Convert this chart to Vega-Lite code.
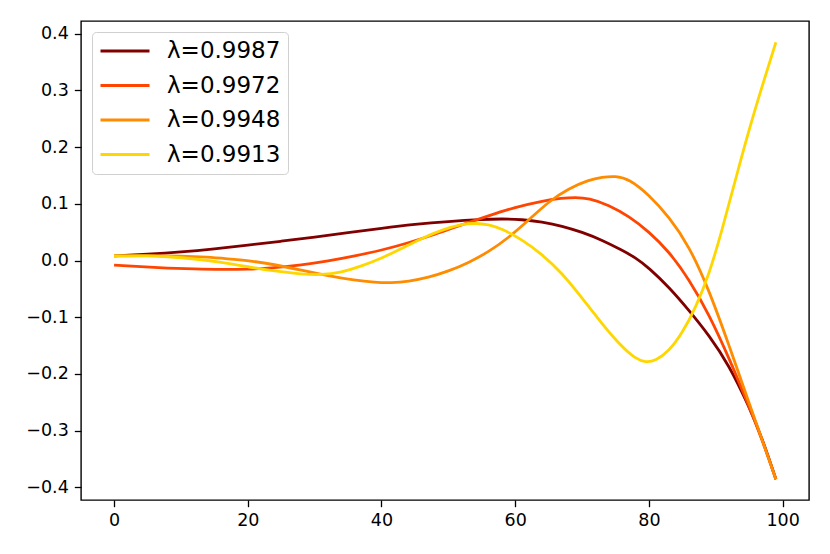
{
  "$schema": "https://vega.github.io/schema/vega-lite/v6.json",
  "width": 728,
  "height": 479,
  "autosize": "none",
  "padding": {"left": 81, "top": 21, "right": 21, "bottom": 54},
  "background": "white",
  "config": {
    "view": {"stroke": "black", "strokeWidth": 1.4},
    "font": "DejaVu Sans"
  },
  "datasets": {
    "curves": [
      {"x": 0, "y": 0.008, "s": "λ=0.9987"},
      {"x": 5, "y": 0.011, "s": "λ=0.9987"},
      {"x": 10, "y": 0.015, "s": "λ=0.9987"},
      {"x": 15, "y": 0.0205, "s": "λ=0.9987"},
      {"x": 20, "y": 0.027, "s": "λ=0.9987"},
      {"x": 25, "y": 0.034, "s": "λ=0.9987"},
      {"x": 30, "y": 0.041, "s": "λ=0.9987"},
      {"x": 35, "y": 0.049, "s": "λ=0.9987"},
      {"x": 40, "y": 0.057, "s": "λ=0.9987"},
      {"x": 45, "y": 0.064, "s": "λ=0.9987"},
      {"x": 50, "y": 0.069, "s": "λ=0.9987"},
      {"x": 55, "y": 0.0725, "s": "λ=0.9987"},
      {"x": 58, "y": 0.0735, "s": "λ=0.9987"},
      {"x": 61, "y": 0.0725, "s": "λ=0.9987"},
      {"x": 64, "y": 0.068, "s": "λ=0.9987"},
      {"x": 67, "y": 0.061, "s": "λ=0.9987"},
      {"x": 70, "y": 0.05, "s": "λ=0.9987"},
      {"x": 73, "y": 0.036, "s": "λ=0.9987"},
      {"x": 76, "y": 0.018, "s": "λ=0.9987"},
      {"x": 78, "y": 0.005, "s": "λ=0.9987"},
      {"x": 80, "y": -0.013, "s": "λ=0.9987"},
      {"x": 83, "y": -0.047, "s": "λ=0.9987"},
      {"x": 86, "y": -0.088, "s": "λ=0.9987"},
      {"x": 89, "y": -0.132, "s": "λ=0.9987"},
      {"x": 92, "y": -0.185, "s": "λ=0.9987"},
      {"x": 95, "y": -0.258, "s": "λ=0.9987"},
      {"x": 97, "y": -0.315, "s": "λ=0.9987"},
      {"x": 99, "y": -0.386, "s": "λ=0.9987"},

      {"x": 0, "y": -0.008, "s": "λ=0.9972"},
      {"x": 4, "y": -0.011, "s": "λ=0.9972"},
      {"x": 8, "y": -0.0135, "s": "λ=0.9972"},
      {"x": 12, "y": -0.015, "s": "λ=0.9972"},
      {"x": 16, "y": -0.016, "s": "λ=0.9972"},
      {"x": 20, "y": -0.0155, "s": "λ=0.9972"},
      {"x": 24, "y": -0.013, "s": "λ=0.9972"},
      {"x": 28, "y": -0.008, "s": "λ=0.9972"},
      {"x": 32, "y": -0.001, "s": "λ=0.9972"},
      {"x": 36, "y": 0.008, "s": "λ=0.9972"},
      {"x": 40, "y": 0.018, "s": "λ=0.9972"},
      {"x": 44, "y": 0.031, "s": "λ=0.9972"},
      {"x": 48, "y": 0.046, "s": "λ=0.9972"},
      {"x": 52, "y": 0.063, "s": "λ=0.9972"},
      {"x": 56, "y": 0.079, "s": "λ=0.9972"},
      {"x": 60, "y": 0.094, "s": "λ=0.9972"},
      {"x": 64, "y": 0.105, "s": "λ=0.9972"},
      {"x": 67, "y": 0.110, "s": "λ=0.9972"},
      {"x": 69, "y": 0.1115, "s": "λ=0.9972"},
      {"x": 71, "y": 0.110, "s": "λ=0.9972"},
      {"x": 74, "y": 0.098, "s": "λ=0.9972"},
      {"x": 77, "y": 0.078, "s": "λ=0.9972"},
      {"x": 80, "y": 0.051, "s": "λ=0.9972"},
      {"x": 83, "y": 0.016, "s": "λ=0.9972"},
      {"x": 86, "y": -0.033, "s": "λ=0.9972"},
      {"x": 89, "y": -0.095, "s": "λ=0.9972"},
      {"x": 92, "y": -0.172, "s": "λ=0.9972"},
      {"x": 95, "y": -0.258, "s": "λ=0.9972"},
      {"x": 97, "y": -0.318, "s": "λ=0.9972"},
      {"x": 99, "y": -0.386, "s": "λ=0.9972"},

      {"x": 0, "y": 0.008, "s": "λ=0.9948"},
      {"x": 5, "y": 0.0088, "s": "λ=0.9948"},
      {"x": 10, "y": 0.008, "s": "λ=0.9948"},
      {"x": 14, "y": 0.006, "s": "λ=0.9948"},
      {"x": 17, "y": 0.003, "s": "λ=0.9948"},
      {"x": 20, "y": 0.0, "s": "λ=0.9948"},
      {"x": 24, "y": -0.007, "s": "λ=0.9948"},
      {"x": 28, "y": -0.017, "s": "λ=0.9948"},
      {"x": 32, "y": -0.027, "s": "λ=0.9948"},
      {"x": 36, "y": -0.035, "s": "λ=0.9948"},
      {"x": 39, "y": -0.0385, "s": "λ=0.9948"},
      {"x": 41.5, "y": -0.0395, "s": "λ=0.9948"},
      {"x": 44, "y": -0.037, "s": "λ=0.9948"},
      {"x": 47, "y": -0.03, "s": "λ=0.9948"},
      {"x": 50, "y": -0.019, "s": "λ=0.9948"},
      {"x": 53, "y": -0.004, "s": "λ=0.9948"},
      {"x": 56, "y": 0.015, "s": "λ=0.9948"},
      {"x": 59, "y": 0.04, "s": "λ=0.9948"},
      {"x": 62, "y": 0.071, "s": "λ=0.9948"},
      {"x": 65, "y": 0.104, "s": "λ=0.9948"},
      {"x": 68, "y": 0.127, "s": "λ=0.9948"},
      {"x": 71, "y": 0.142, "s": "λ=0.9948"},
      {"x": 73, "y": 0.147, "s": "λ=0.9948"},
      {"x": 75, "y": 0.149, "s": "λ=0.9948"},
      {"x": 77, "y": 0.144, "s": "λ=0.9948"},
      {"x": 80, "y": 0.116, "s": "λ=0.9948"},
      {"x": 83, "y": 0.077, "s": "λ=0.9948"},
      {"x": 86, "y": 0.026, "s": "λ=0.9948"},
      {"x": 89, "y": -0.052, "s": "λ=0.9948"},
      {"x": 92, "y": -0.15, "s": "λ=0.9948"},
      {"x": 95, "y": -0.252, "s": "λ=0.9948"},
      {"x": 97, "y": -0.318, "s": "λ=0.9948"},
      {"x": 99, "y": -0.386, "s": "λ=0.9948"},

      {"x": 0, "y": 0.008, "s": "λ=0.9913"},
      {"x": 4, "y": 0.0085, "s": "λ=0.9913"},
      {"x": 8, "y": 0.007, "s": "λ=0.9913"},
      {"x": 12, "y": 0.003, "s": "λ=0.9913"},
      {"x": 16, "y": -0.003, "s": "λ=0.9913"},
      {"x": 20, "y": -0.011, "s": "λ=0.9913"},
      {"x": 24, "y": -0.019, "s": "λ=0.9913"},
      {"x": 28, "y": -0.024, "s": "λ=0.9913"},
      {"x": 31, "y": -0.0255, "s": "λ=0.9913"},
      {"x": 34, "y": -0.021, "s": "λ=0.9913"},
      {"x": 37, "y": -0.01, "s": "λ=0.9913"},
      {"x": 40, "y": 0.004, "s": "λ=0.9913"},
      {"x": 43, "y": 0.021, "s": "λ=0.9913"},
      {"x": 46, "y": 0.039, "s": "λ=0.9913"},
      {"x": 49, "y": 0.054, "s": "λ=0.9913"},
      {"x": 52, "y": 0.064, "s": "λ=0.9913"},
      {"x": 54, "y": 0.066, "s": "λ=0.9913"},
      {"x": 56, "y": 0.0635, "s": "λ=0.9913"},
      {"x": 58, "y": 0.056, "s": "λ=0.9913"},
      {"x": 61, "y": 0.037, "s": "λ=0.9913"},
      {"x": 64, "y": 0.011, "s": "λ=0.9913"},
      {"x": 67, "y": -0.022, "s": "λ=0.9913"},
      {"x": 70, "y": -0.066, "s": "λ=0.9913"},
      {"x": 73, "y": -0.112, "s": "λ=0.9913"},
      {"x": 76, "y": -0.153, "s": "λ=0.9913"},
      {"x": 78, "y": -0.173, "s": "λ=0.9913"},
      {"x": 79.5, "y": -0.18, "s": "λ=0.9913"},
      {"x": 81, "y": -0.177, "s": "λ=0.9913"},
      {"x": 83, "y": -0.16, "s": "λ=0.9913"},
      {"x": 85, "y": -0.128, "s": "λ=0.9913"},
      {"x": 87, "y": -0.083, "s": "λ=0.9913"},
      {"x": 89, "y": -0.025, "s": "λ=0.9913"},
      {"x": 91, "y": 0.056, "s": "λ=0.9913"},
      {"x": 93, "y": 0.145, "s": "λ=0.9913"},
      {"x": 95, "y": 0.232, "s": "λ=0.9913"},
      {"x": 97, "y": 0.31, "s": "λ=0.9913"},
      {"x": 99, "y": 0.385, "s": "λ=0.9913"}
    ]
  },
  "data": {"name": "curves"},
  "mark": {"type": "line", "strokeWidth": 2.8, "interpolate": "basis"},
  "encoding": {
    "x": {
      "field": "x",
      "type": "quantitative",
      "scale": {"domain": [-4.95, 103.95], "nice": false, "zero": false},
      "axis": {
        "title": null,
        "values": [0, 20, 40, 60, 80, 100],
        "grid": false,
        "domain": false,
        "tickColor": "black",
        "tickWidth": 1.3,
        "tickSize": 6.7,
        "labelFont": "DejaVu Sans",
        "labelFontSize": 17.5,
        "labelColor": "black",
        "labelPadding": 5
      }
    },
    "y": {
      "field": "y",
      "type": "quantitative",
      "scale": {"domain": [-0.4225, 0.4225], "nice": false, "zero": false},
      "axis": {
        "title": null,
        "values": [-0.4, -0.3, -0.2, -0.1, 0, 0.1, 0.2, 0.3, 0.4],
        "labelExpr": "replace(format(datum.value, '.1f'), '-', '−')",
        "grid": false,
        "domain": false,
        "tickColor": "black",
        "tickWidth": 1.3,
        "tickSize": 6.7,
        "labelFont": "DejaVu Sans",
        "labelFontSize": 17.5,
        "labelColor": "black",
        "labelPadding": 6
      }
    },
    "color": {
      "field": "s",
      "type": "nominal",
      "sort": ["λ=0.9987", "λ=0.9972", "λ=0.9948", "λ=0.9913"],
      "scale": {
        "domain": ["λ=0.9987", "λ=0.9972", "λ=0.9948", "λ=0.9913"],
        "range": ["#800000", "#ff4500", "#ff8c00", "#ffd700"]
      },
      "legend": {
        "title": null,
        "orient": "none",
        "legendX": 11,
        "legendY": 11,
        "padding": 7,
        "fillColor": "rgba(255,255,255,0.8)",
        "strokeColor": "#d0d0d0",
        "cornerRadius": 4,
        "symbolType": "stroke",
        "symbolSize": 2401,
        "symbolStrokeWidth": 2.8,
        "clipHeight": 24,
        "labelFont": "DejaVu Sans",
        "labelFontSize": 23,
        "labelColor": "black",
        "labelOffset": 16,
        "rowPadding": 10.5
      }
    }
  }
}
